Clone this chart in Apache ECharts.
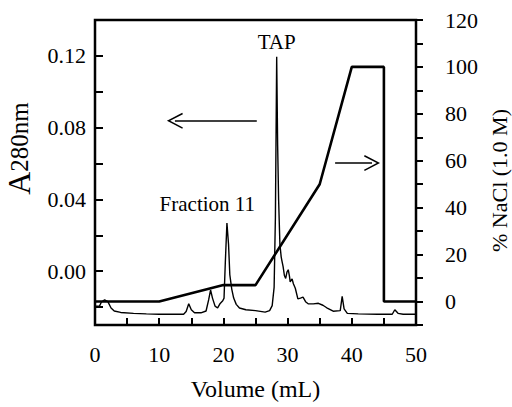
<!DOCTYPE html>
<html><head><meta charset="utf-8">
<script src="https://cdn.jsdelivr.net/npm/echarts@6/dist/echarts.min.js"></script>
<style>html,body{margin:0;padding:0;background:#fff}#c{width:512px;height:407px}</style>
</head><body><div id="c"></div>
<script>
// A280 trace
const volume = [0,0.05,0.7,1.0,1.5,2.0,2.5,3.0,4.0,6.0,8.0,10.0,12.0,13.8,14.2,14.6,15.0,15.5,16.5,17.3,17.7,18.0,18.3,18.7,19.1,19.5,19.9,20.1,20.3,20.55,20.8,21.0,21.3,21.6,22.0,22.5,23.5,25.0,26.5,27.2,27.6,27.9,28.1,28.3,28.45,28.6,28.8,29.0,29.1,29.3,29.5,29.7,29.9,30.1,30.3,30.4,30.7,30.9,31.2,31.6,32.0,32.4,32.8,33.2,34.0,34.8,35.5,36.1,37.1,38.2,38.5,38.8,39.3,41,44,46.3,46.7,47.2,48,50];
const a280 = [-0.0235,-0.0195,-0.0195,-0.0172,-0.0160,-0.0170,-0.0205,-0.0222,-0.0230,-0.0235,-0.0238,-0.0240,-0.0240,-0.0240,-0.0225,-0.0182,-0.0215,-0.0232,-0.0232,-0.0222,-0.0160,-0.0105,-0.0150,-0.0195,-0.0205,-0.0180,-0.0165,-0.0150,0.0050,0.0268,0.0150,-0.0020,-0.0100,-0.0150,-0.0185,-0.0205,-0.0215,-0.0220,-0.0228,-0.0220,-0.0192,-0.0090,0.0300,0.1195,0.0700,0.0400,0.0150,0.0080,0.0060,0.0025,-0.0024,-0.0040,-0.0005,0.0008,-0.0030,-0.0060,-0.0043,-0.0070,-0.0095,-0.0154,-0.0150,-0.0145,-0.0170,-0.0182,-0.0182,-0.0179,-0.0190,-0.0204,-0.0223,-0.0220,-0.0140,-0.0210,-0.0235,-0.0238,-0.0240,-0.0240,-0.0215,-0.0235,-0.0240,-0.0240];
// NaCl gradient
const naclVolume = [0,10,20,25,35,40,45,45,50];
const naclPercent = [0,0,7,7,50,100,100,0,0];
// ticks
const xTickLabels = [0,10,20,30,40,50];
const leftTickValues = ['-0.03','-0.02','-0.01','0.00','0.01','0.02','0.03','0.04','0.05','0.06','0.07','0.08','0.09','0.10','0.11','0.12','0.13','0.14'];
const leftMajorTicks = ['-0.02','0.00','0.02','0.04','0.06','0.08','0.10','0.12','0.14'];
const leftTickLabels = ['0.00','0.04','0.08','0.12'];
const rightTickLabels = [0,20,40,60,80,100,120];
// annotations
const peakNames = ['TAP','Fraction 11'];
const peakLabelPos = [[28.3,0.1278],[17.5,0.0373]];
const leftArrow = [[25.2,0.0838],[12.45,0.0838]];
const rightArrow = [[37.4,59],[43.15,59]];

const FONT = '"Liberation Serif", "Times New Roman", serif';
const chevron = 'path://M8,0 L16,16 L14.6,16.7 L8,3.4 L1.4,16.7 L0,16 Z';
const chart = echarts.init(document.getElementById('c'), null, {renderer:'svg'});
const txt = {color:'#000', fontFamily:FONT, fontSize:22};
chart.setOption({
  animation:false,
  backgroundColor:'#fff',
  grid:{left:95,right:96,top:20,bottom:82,outerBoundsMode:'none',containLabel:false,show:true,borderColor:'#000',borderWidth:2.5,backgroundColor:'transparent'},
  xAxis:{type:'value',min:0,max:50,interval:5,
    axisLine:{show:false,onZero:false},splitLine:{show:false},
    axisTick:{inside:true,length:7,lineStyle:{color:'#000',width:2}},
    axisLabel:Object.assign({margin:18,formatter:v=>xTickLabels.includes(v)?String(v):''},txt),
    name:'Volume (mL)',nameLocation:'middle',nameGap:52,
    nameTextStyle:{color:'#000',fontFamily:FONT,fontSize:24}},
  yAxis:[
    {type:'value',min:-0.03,max:0.14,position:'left',
     axisLine:{show:false,onZero:false},axisTick:{show:false},axisLabel:{show:false},splitLine:{show:false},
     name:'{a|A}{b|280nm}',nameLocation:'middle',nameRotate:90,nameGap:60,
     nameTextStyle:{padding:[0,0,0,48],rich:{a:{fontFamily:FONT,fontSize:32,color:'#000'},b:{fontFamily:FONT,fontSize:25,color:'#000'}}}},
    {type:'category',data:leftTickValues,boundaryGap:false,position:'left',
     axisLine:{show:false,onZero:false},splitLine:{show:false},
     axisTick:{inside:true,length:8,interval:(i,v)=>leftMajorTicks.includes(leftTickValues[i]),lineStyle:{color:'#000',width:2}},
     axisLabel:Object.assign({margin:9,interval:(i,v)=>leftTickLabels.includes(v)},txt)},
    {type:'value',min:-10,max:120,interval:10,position:'right',
     axisLine:{show:false,onZero:false},splitLine:{show:false},
     axisTick:{inside:false,length:7,lineStyle:{color:'#000',width:2}},
     axisLabel:Object.assign({margin:29,formatter:v=>rightTickLabels.includes(v)?String(v):''},txt),
     name:'% NaCl (1.0 M)',nameLocation:'middle',nameRotate:90,nameGap:72,
     nameTextStyle:{color:'#000',fontFamily:FONT,fontSize:22,padding:[0,16,0,0]}}
  ],
  series:[
    {type:'line',name:'A280',yAxisIndex:0,symbol:'none',
     data:volume.map((v,i)=>[v,a280[i]]),
     lineStyle:{color:'#000',width:1.4},
     markPoint:{symbol:'rect',symbolSize:1,itemStyle:{color:'rgba(0,0,0,0)'},silent:true,
       label:{show:true,position:'inside',formatter:'{b}',color:'#000',fontFamily:FONT,fontSize:21},
       data:peakNames.map((n,i)=>({name:n,coord:peakLabelPos[i]}))},
     markLine:{silent:true,symbol:['none',chevron],symbolSize:16,label:{show:false},
       lineStyle:{color:'#000',width:1.6,type:'solid'},emphasis:{disabled:true},
       data:[[{coord:leftArrow[0]},{coord:leftArrow[1]}]]}},
    {type:'line',name:'NaCl',yAxisIndex:2,symbol:'none',
     data:naclVolume.map((v,i)=>[v,naclPercent[i]]),
     lineStyle:{color:'#000',width:2.6},
     markLine:{silent:true,symbol:['none',chevron],symbolSize:16,label:{show:false},
       lineStyle:{color:'#000',width:1.6,type:'solid'},emphasis:{disabled:true},
       data:[[{coord:rightArrow[0]},{coord:rightArrow[1]}]]}}
  ]
});
</script></body></html>
